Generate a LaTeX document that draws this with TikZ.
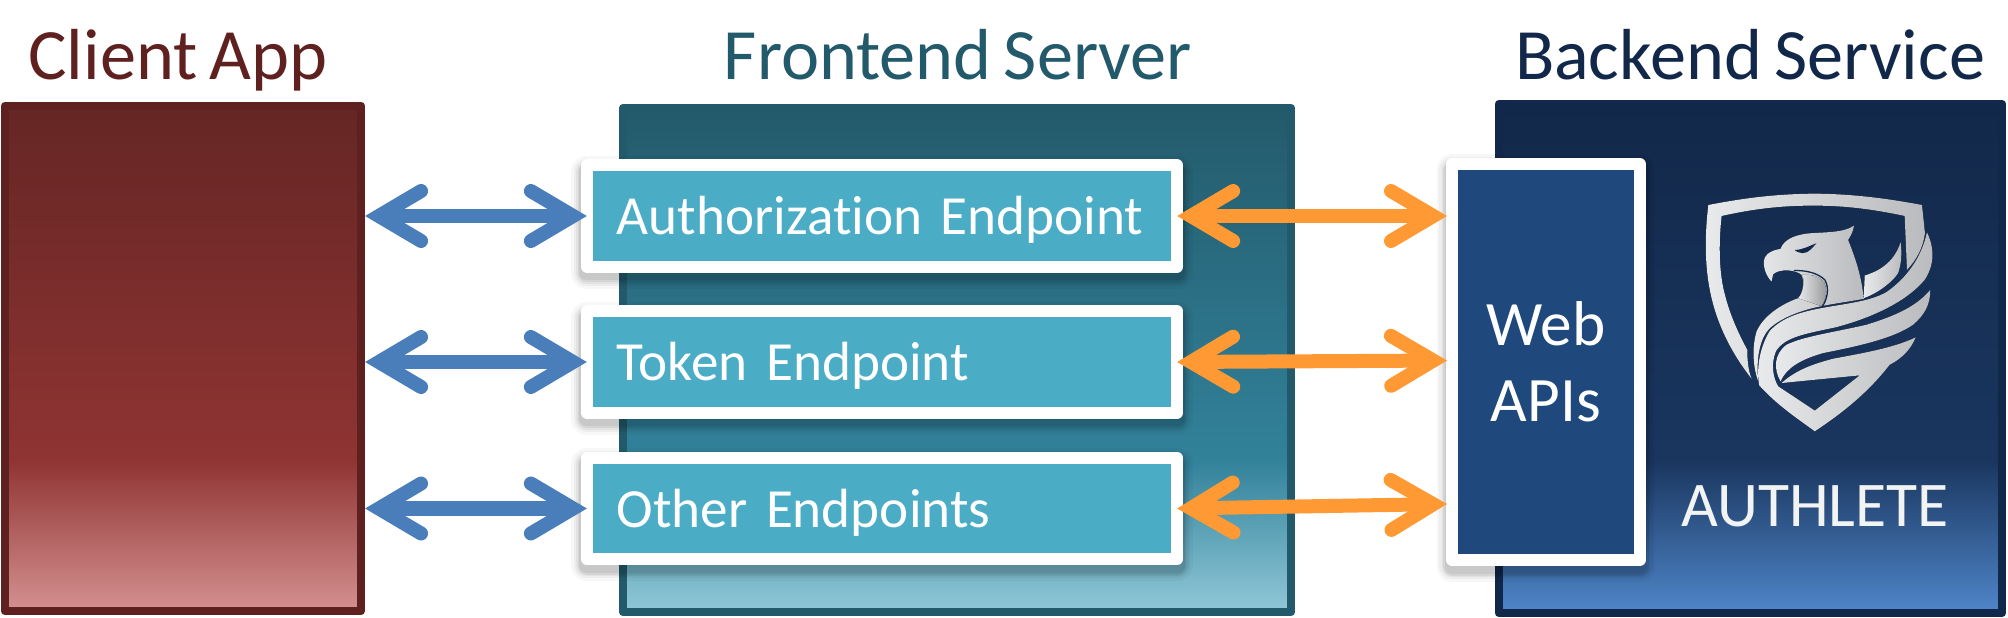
\documentclass[tikz,border=0pt]{standalone}
\usepackage{fontspec}
\setmainfont[Ligatures=NoCommon,WordSpace=0.75]{Carlito}
\usetikzlibrary{arrows.meta,shadows}

\definecolor{ClientDark}{HTML}{5F2120}
\definecolor{ClientTop}{HTML}{652624}
\definecolor{ClientMid}{HTML}{8F3433}
\definecolor{ClientLow}{HTML}{D49190}
\definecolor{FrontDark}{HTML}{235A6B}
\definecolor{FrontMid}{HTML}{32829B}
\definecolor{FrontLow}{HTML}{90C8D8}
\definecolor{BackDark}{HTML}{12284A}
\definecolor{BackMid}{HTML}{1A365F}
\definecolor{BackLow}{HTML}{4F86C9}
\definecolor{EndpointFill}{HTML}{4BACC6}
\definecolor{ApiFill}{HTML}{1F497D}
\definecolor{BlueArrow}{HTML}{4A7EBB}
\definecolor{OrangeArrow}{HTML}{FF9933}
\definecolor{LogoLight}{HTML}{E9EAEB}
\definecolor{LogoGrey}{HTML}{B9BBBE}

\pgfdeclareverticalshading{clientfill}{100bp}{color(0bp)=(ClientLow); color(25bp)=(ClientLow); color(40bp)=(ClientMid); color(75bp)=(ClientTop); color(100bp)=(ClientTop)}
\pgfdeclareverticalshading{frontfill}{100bp}{color(0bp)=(FrontLow); color(25bp)=(FrontLow); color(40bp)=(FrontMid); color(75bp)=(FrontDark); color(100bp)=(FrontDark)}
\pgfdeclareverticalshading{backfill}{100bp}{color(0bp)=(BackLow); color(25bp)=(BackLow); color(40bp)=(BackMid); color(75bp)=(BackDark); color(100bp)=(BackDark)}

\tikzset{
	softshadow/.style={
		general shadow={draw=black,fill=black,line join=round,line width=4.2pt,opacity=.06,shadow yshift=-1.8pt},
		general shadow={draw=black,fill=black,line join=round,line width=5.2pt,opacity=.06,shadow yshift=-1.8pt},
		general shadow={draw=black,fill=black,line join=round,line width=6.2pt,opacity=.05,shadow yshift=-1.8pt},
		general shadow={draw=black,fill=black,line join=round,line width=7.4pt,opacity=.04,shadow yshift=-1.8pt},
		general shadow={draw=black,fill=black,line join=round,line width=9pt,opacity=.03,shadow yshift=-1.8pt}},
	tier/.style={draw=#1,line width=.08cm,line join=round,inner sep=0pt},
	tiertitle/.style={anchor=base,font=\fontsize{20.55}{24}\selectfont,text=#1},
	endpoint/.style={softshadow,fill=EndpointFill,draw=white,line width=.12cm,line join=round,outer sep=0pt,
		text=white,font=\fontsize{15.7}{20}\selectfont,text width=5.3cm,inner xsep=.3cm,inner ysep=0pt,
		align=left,minimum height=1.01cm,text height=12pt,text depth=1.2pt},
	webapi/.style={softshadow,fill=ApiFill,draw=white,line width=.12cm,line join=round,
		text=white,font=\fontsize{18}{21.6}\selectfont,align=center,minimum width=1.87cm,minimum height=3.96cm,inner sep=0pt},
	clientlink/.style={BlueArrow,line width=.14cm,{Straight Barb[length=12pt,width=14.2pt,line cap=round,line join=miter]}-{Straight Barb[length=12pt,width=14.2pt,line cap=round,line join=miter]}},
	backendlink/.style={OrangeArrow,line width=.14cm,{Straight Barb[length=12pt,width=14.2pt,line cap=round,line join=miter]}-{Straight Barb[length=12pt,width=14.2pt,line cap=round,line join=miter]}},
	logopart/.style={left color=LogoLight,right color=LogoGrey,draw=none}
}

\begin{document}
\begin{tikzpicture}[x=.01cm,y=-.01cm]
	\useasboundingbox (0,0) rectangle (2008,618);
	% tiers
	\node[tier=ClientDark,shading=clientfill,minimum width=3.56cm,minimum height=5.05cm] (client) at (183,358.5) {};
	\node[tier=FrontDark,shading=frontfill,minimum width=6.68cm,minimum height=5.04cm] (frontend) at (957,360) {};
	\node[tier=BackDark,shading=backfill,minimum width=5.03cm,minimum height=5.09cm] (backend) at (1750.5,358.5) {};
	% titles
	\node[tiertitle=ClientDark] (clienttitle) at (178,79) {Client App};
	\node[tiertitle=FrontDark] (fronttitle) at (958,79) {Frontend Server};
	\node[tiertitle=BackDark] (backtitle) at (1750,79) {Backend Service};
	% logo
	\begin{scope}[shift={(1690,185)},x=.00333cm,y=-.00333cm]
		\fill[logopart] (55,60) .. controls (170,38) and (260,27) .. (375,26) .. controls (490,27) and (590,40) .. (697,60) -- (706,145) .. controls (700,190) and (680,225) .. (652,255) -- (645,93) .. controls (550,73) and (470,62) .. (370,62) .. controls (270,62) and (190,72) .. (95,93) .. controls (85,180) and (88,270) .. (105,330) .. controls (120,390) and (145,445) .. (172,495) .. controls (172,530) and (176,560) .. (185,582) .. controls (140,525) and (95,450) .. (70,360) .. controls (45,270) and (42,170) .. (55,60) -- cycle;
		% head and neck
		\fill[logopart] (493,122) .. controls (490,140) and (482,155) .. (475,165) .. controls (495,215) and (515,270) .. (522,342) .. controls (480,350) and (440,355) .. (395,364) .. controls (340,375) and (280,395) .. (240,430) .. controls (210,460) and (198,520) .. (205,590) .. controls (190,550) and (185,490) .. (200,440) .. controls (220,395) and (270,360) .. (325,340) .. controls (340,325) and (345,290) .. (335,270) .. controls (320,255) and (270,250) .. (250,268) -- (245,290) .. controls (230,275) and (220,250) .. (222,228) .. controls (225,205) and (250,195) .. (272,192) .. controls (282,165) and (310,152) .. (350,146) .. controls (400,141) and (460,145) .. (493,122) -- cycle;
		\fill[left color=LogoLight,right color=LogoGrey!80!black] (338,270) .. controls (360,268) and (385,272) .. (402,290) .. controls (415,315) and (408,345) .. (395,364) -- (325,340) .. controls (340,325) and (345,290) .. (338,270) -- cycle;
		\fill[BackDark] (315,195) .. controls (340,195) and (360,182) .. (380,175) .. controls (370,185) and (358,205) .. (338,205) .. controls (328,204) and (318,200) .. (315,195) -- cycle;
		\draw[BackDark,line width=.013cm] (312,257) .. controls (350,256) and (385,265) .. (405,285) .. controls (420,310) and (412,345) .. (397,366);
		% small wing
		\fill[logopart] (633,172) .. controls (615,225) and (580,255) .. (525,272) -- (522,340) .. controls (565,325) and (610,290) .. (625,265) .. controls (635,240) and (637,205) .. (633,172) -- cycle;
		% feather band
		\fill[logopart] (722,315) .. controls (680,365) and (620,392) .. (530,420) .. controls (430,443) and (340,455) .. (290,480) .. controls (250,510) and (252,555) .. (272,590) .. controls (290,550) and (330,525) .. (400,505) .. controls (500,485) and (610,462) .. (670,420) .. controls (705,390) and (722,360) .. (722,315) -- cycle;
		% wing and lower shield
		\fill[logopart] (712,142) .. controls (735,190) and (735,240) .. (705,285) .. controls (655,345) and (560,395) .. (440,427) .. controls (350,447) and (285,455) .. (258,500) .. controls (242,540) and (250,580) .. (265,605) -- (375,678) -- (510,572) -- (275,595) .. controls (320,555) and (370,538) .. (430,522) .. controls (520,505) and (610,490) .. (678,458) .. controls (665,490) and (640,520) .. (600,540) .. controls (530,630) and (450,690) .. (375,740) .. controls (320,700) and (260,660) .. (208,602) .. controls (200,560) and (205,495) .. (240,438) .. controls (280,395) and (340,380) .. (400,369) .. controls (470,356) and (540,350) .. (590,322) .. controls (650,280) and (695,220) .. (712,142) -- cycle;
	\end{scope}
	\node[text=LogoLight!60!white,font=\fontsize{18.1}{20}\selectfont,anchor=base] (authlete) at (1815,526) {AUTHLETE};
	% endpoints
	\node[endpoint] (authz) at (882,216) {\mbox{Authorization Endpoint}};
	\node[endpoint] (token) at (882,362) {Token Endpoint};
	\node[endpoint] (other) at (882,508.5) {Other Endpoints};
	\node[webapi] (webapis) at (1546,362) {Web\\APIs};
	% end points on the web api box
	\coordinate (apiA) at (1447,216);
	\coordinate (apiB) at (1447,360.5);
	\coordinate (apiC) at (1447,504);
	% arrows
	\draw[clientlink] (client.east |- authz) -- (authz.west);
	\draw[clientlink] (client.east |- token) -- (token.west);
	\draw[clientlink] (client.east |- other) -- (other.west);
	\draw[backendlink] (authz.east) -- (apiA);
	\draw[backendlink] (token.east) -- (apiB);
	\draw[backendlink] (other.east) -- (apiC);
\end{tikzpicture}
\end{document}
